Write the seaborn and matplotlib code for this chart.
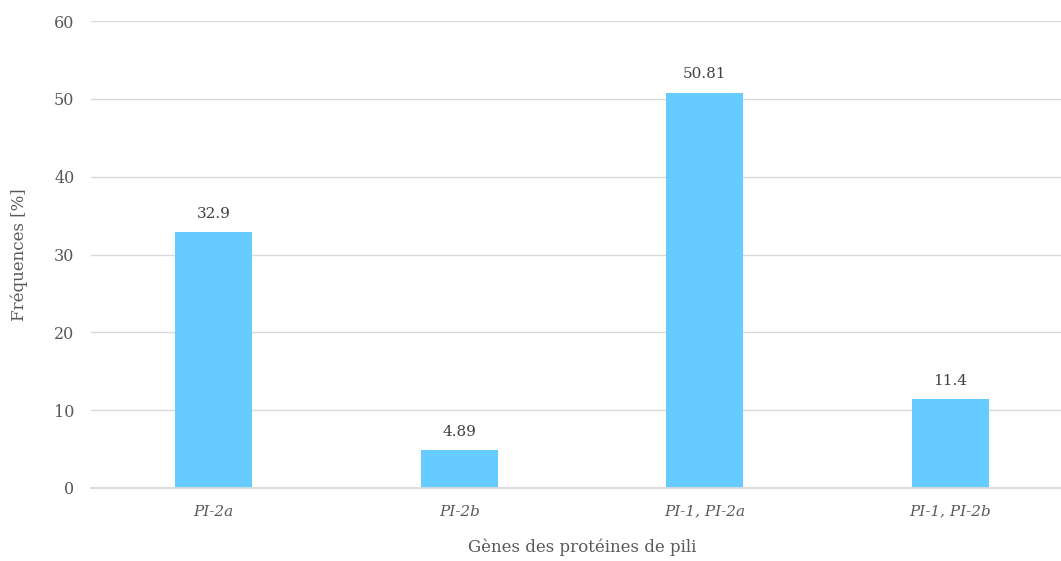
import matplotlib
matplotlib.use("Agg")
import matplotlib.pyplot as plt
import seaborn as sns
import pandas as pd

categories = ["PI-2a", "PI-2b", "PI-1, PI-2a", "PI-1, PI-2b"]
frequences = [32.9, 4.89, 50.81, 11.4]
value_labels = ["32.9", "4.89", "50.81", "11.4"]
y_ticks = [0, 10, 20, 30, 40, 50, 60]

sns.set_theme(style="white")
plt.rcParams["font.family"] = ["DejaVu Serif"]

text_color = "#595959"
grid_color = "#D9D9D9"
bar_color = "#66CCFF"

df = pd.DataFrame({"gene": categories, "freq": frequences})

fig = plt.figure(figsize=(10.61, 5.61), dpi=100)
W, H = 1061, 561
ax = fig.add_axes([91 / W, 1 - 488 / H, (1073 - 91) / W, (488 - 21) / H])

sns.barplot(data=df, x="gene", y="freq", color=bar_color, width=0.314,
            saturation=1, linewidth=0, edgecolor="none", ax=ax, zorder=3)

ax.set_ylim(0, 60)
ax.set_xlim(-0.5, 3.5)
ax.set_yticks(y_ticks)
ax.set_yticklabels([str(t) for t in y_ticks], color=text_color, fontsize=11.5)
ax.set_xticks(range(len(categories)))
ax.set_xticklabels(categories, color=text_color, fontsize=11, style="italic")
ax.tick_params(axis="both", length=0)
ax.tick_params(axis="y", pad=12)
ax.tick_params(axis="x", pad=12)

ax.yaxis.grid(True, color=grid_color, linewidth=1, zorder=0)
for s in ["top", "right", "left"]:
    ax.spines[s].set_visible(False)
ax.spines["bottom"].set_color(grid_color)
ax.spines["bottom"].set_linewidth(1.3)
ax.spines["bottom"].set_zorder(4)

for i, (v, lab) in enumerate(zip(frequences, value_labels)):
    ax.annotate(lab, (i, v), xytext=(0, 8), textcoords="offset points",
                ha="center", va="bottom", color="#404040", fontsize=11)

ax.set_xlabel("Gènes des protéines de pili", color=text_color, fontsize=12, labelpad=14)
ax.set_ylabel("Fréquences [%]", color=text_color, fontsize=12, labelpad=19)

fig.savefig("out.png", dpi=100)
